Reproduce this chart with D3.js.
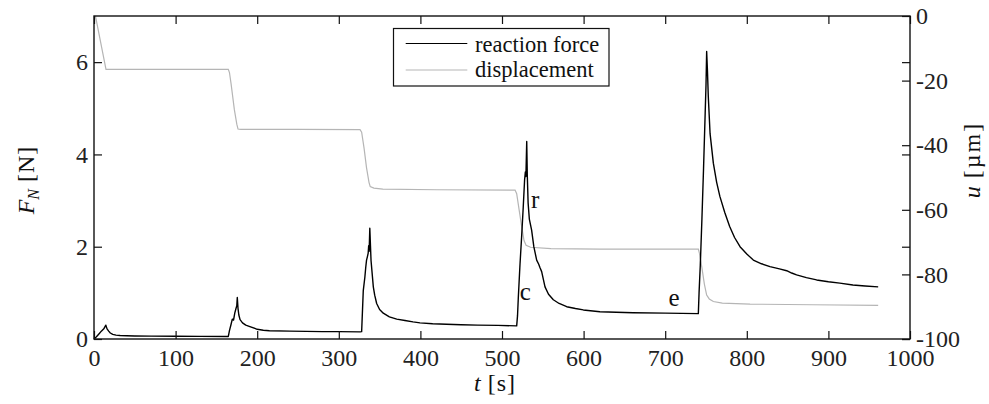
<!DOCTYPE html>
<html><head><meta charset="utf-8">
<script src="https://cdn.jsdelivr.net/npm/d3@7"></script>
<style>
body{margin:0;background:#fff;}
svg{display:block;}
.tick text{font-family:"Liberation Serif",serif;font-size:24px;fill:#222;}
</style></head>
<body><svg id="c" width="989" height="404"></svg>
<script>
// reaction force F_N [N] vs time t [s]
const forceTime = [0,3,6,9,12,14.5,16,18,20,23,27,32,40,50,70,100,130,164.6,
 166,168,169.5,171,172.5,174,175,175.6,176.5,177.5,179,182,186,191,200,207.5,215,240,280,300,326,
 328,330,332,333,334,335,336,336.6,337.2,338,339.5,342.3,344,346.4,350,354.5,362,371,381,391,399.5,415,432,450,470,495,518,
 519,520,522,524,526,527.7,528.6,529.3,530.3,531,532,533.5,536.3,539,542.5,545,546.5,548.6,552.7,557,562.9,570,579.3,590,599.7,620,640,660.7,700,740.6,
 741.5,743,745,747,749,750,750.8,751.8,752.8,755,759,763,767,773,779,785,791.7,800,808,818,828.4,840,848.9,855,861,873,885.6,900,914,930,945,961];
const forceVals = [0,0.05,0.11,0.17,0.22,0.30,0.22,0.17,0.13,0.10,0.085,0.075,0.07,0.065,0.062,0.06,0.057,0.055,
 0.18,0.32,0.43,0.41,0.56,0.66,0.72,0.9,0.66,0.52,0.42,0.35,0.30,0.27,0.21,0.19,0.18,0.17,0.16,0.16,0.155,
 0.16,1.05,1.35,1.55,1.71,1.78,1.86,2.02,1.90,2.40,1.70,1.13,0.95,0.77,0.64,0.56,0.48,0.43,0.40,0.37,0.35,0.33,0.32,0.31,0.30,0.295,0.285,
 0.5,0.9,1.6,2.2,2.85,3.45,3.62,3.52,4.28,3.55,2.95,2.6,2.36,2.0,1.71,1.62,1.55,1.46,1.13,0.97,0.85,0.77,0.70,0.66,0.63,0.59,0.58,0.57,0.56,0.55,
 1.0,1.6,2.6,3.7,4.9,5.5,6.23,5.8,5.26,4.45,3.81,3.40,3.09,2.74,2.44,2.2,2.0,1.84,1.71,1.63,1.57,1.52,1.48,1.43,1.39,1.33,1.28,1.24,1.21,1.17,1.15,1.13];
// displacement u [µm] vs time t [s]
const dispTime = [0,2,14.7,60,120,164.6,166,168,172,175,176.5,180,250,326,328,331,334,337,338.5,343,354,420,516,518,521,524,527,529.5,535,560,620,740.6,742,745,748,750.8,754,759,770,804,880,961];
const dispVals = [0,-0.3,-16.5,-16.5,-16.5,-16.5,-17.5,-21,-29,-33.5,-35,-35.1,-35.1,-35.2,-36,-41,-47,-51.5,-52.8,-53.3,-53.6,-53.8,-53.9,-55,-60,-65,-69.5,-71,-71.6,-72,-72.2,-72.2,-73.5,-78,-83,-86.4,-87.6,-88.4,-88.9,-89.2,-89.4,-89.6];
const xTicks = [0,100,200,300,400,500,600,700,800,900,1000];
const leftTicks = [0,2,4,6];
const rightTicks = [0,-20,-40,-60,-80,-100];
const legendLabels = ["reaction force","displacement"];
const annotations = [{t:532,F:2.83,label:"r",dx:3},{t:529,F:0.85,label:"c",dx:-6},{t:704,F:0.72,label:"e",dx:0}];

const L=94,R=910,T=16,B=339;
const svg=d3.select("#c");
const x=d3.scaleLinear([0,1000],[L,R]);
const yF=d3.scaleLinear([0,7],[B,T]);
const yU=d3.scaleLinear([-100,0],[B,T]);

// lines
const fData=forceTime.map((t,i)=>[t,forceVals[i]]);
const uData=dispTime.map((t,i)=>[t,dispVals[i]]);
svg.append("path").datum(uData).attr("fill","none").attr("stroke","#b5b5b5").attr("stroke-width",1.2)
 .attr("d",d3.line().x(d=>x(d[0])).y(d=>yU(d[1])));
svg.append("path").datum(fData).attr("fill","none").attr("stroke","#000").attr("stroke-width",1.4).attr("stroke-linejoin","round")
 .attr("d",d3.line().x(d=>x(d[0])).y(d=>yF(d[1])));

// axes
function clean(g){g.select(".domain").remove();g.selectAll(".tick line").attr("stroke","#111").attr("stroke-width",1.2);}
svg.append("g").attr("transform",`translate(0,${B})`)
 .call(d3.axisBottom(x).tickValues(xTicks).tickSizeInner(-8).tickSizeOuter(0).tickPadding(10).tickFormat(d3.format("d"))).call(clean);
svg.append("g").attr("transform",`translate(0,${T})`)
 .call(d3.axisTop(x).tickValues(xTicks).tickSizeInner(-8).tickSizeOuter(0).tickFormat("")).call(clean);
svg.append("g").attr("transform",`translate(${L},0)`)
 .call(d3.axisLeft(yF).tickValues(leftTicks).tickSizeInner(-8).tickSizeOuter(0).tickPadding(6).tickFormat(d3.format("d"))).call(clean);
svg.append("g").attr("transform",`translate(${R},0)`)
 .call(d3.axisRight(yF).tickValues(leftTicks).tickSizeInner(-8).tickSizeOuter(0).tickFormat("")).call(clean);
svg.append("g").attr("transform",`translate(${R},0)`)
 .call(d3.axisRight(yU).tickValues(rightTicks).tickSizeInner(-8).tickSizeOuter(0).tickPadding(6).tickFormat(d=>String(d))).call(clean);
svg.selectAll(".tick text").attr("fill","#222");

// frame
svg.append("rect").attr("x",L).attr("y",T).attr("width",R-L).attr("height",B-T)
 .attr("fill","none").attr("stroke","#111").attr("stroke-width",1.4);

// axis labels
const lf='"Liberation Serif",serif';
const xl=svg.append("text").attr("x",495).attr("y",391).attr("text-anchor","middle")
 .attr("font-family",lf).attr("font-size",24).attr("fill","#111");
xl.append("tspan").attr("font-style","italic").text("t");
xl.append("tspan").attr("dx",7).attr("letter-spacing",1).text("[s]");
const yl=svg.append("text").attr("transform","translate(34,180) rotate(-90)").attr("text-anchor","middle")
 .attr("font-family",lf).attr("font-size",24).attr("fill","#111");
yl.append("tspan").attr("font-style","italic").text("F");
yl.append("tspan").attr("font-style","italic").attr("font-size",16).attr("dy",5).text("N");
yl.append("tspan").attr("dy",-5).attr("dx",7).attr("letter-spacing",1).text("[N]");
const ul=svg.append("text").attr("transform","translate(980,160) rotate(-90)").attr("text-anchor","middle")
 .attr("font-family",lf).attr("font-size",24).attr("fill","#111");
ul.append("tspan").attr("font-style","italic").text("u");
ul.append("tspan").attr("dx",8).attr("letter-spacing",2).text("[µm]");

// annotations
svg.selectAll(".ann").data(annotations).join("text").attr("class","ann")
 .attr("x",d=>x(d.t)+d.dx).attr("y",d=>yF(d.F)).attr("font-family",lf).attr("font-size",25).attr("fill","#111")
 .text(d=>d.label);

// legend
const lg=svg.append("g");
lg.append("rect").attr("x",393.5).attr("y",28.5).attr("width",215.5).attr("height",57.5).attr("fill","#fff").attr("stroke","#111").attr("stroke-width",1.2);
const lcol=["#000","#b5b5b5"], ly=[43.5,70], lyt=[52,77];
legendLabels.forEach((s,i)=>{
 lg.append("line").attr("x1",405.7).attr("x2",467.3).attr("y1",ly[i]).attr("y2",ly[i]).attr("stroke",lcol[i]).attr("stroke-width",1.2);
 lg.append("text").attr("x",475).attr("y",lyt[i]).attr("font-family",lf).attr("font-size",22.5).attr("fill","#111").text(s);
});
</script></body></html>
